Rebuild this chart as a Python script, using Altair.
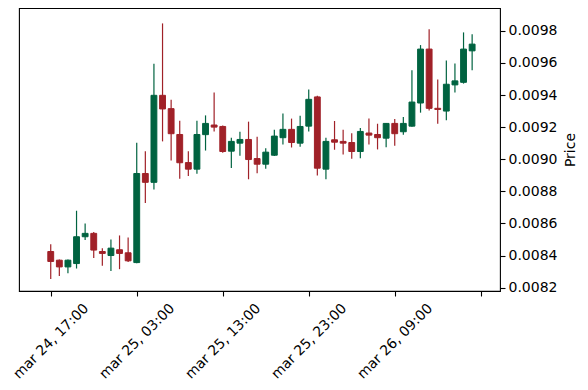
import altair as alt
import pandas as pd

# hourly candles, starting mar 24, 17:00 (values in price units)
opens = [0.008425, 0.008371, 0.008329, 0.008350, 0.008517, 0.008538, 0.008425, 0.008400, 0.008436, 0.008417,
         0.008356, 0.008911, 0.008856, 0.009398, 0.009315, 0.009154, 0.008979, 0.008938, 0.009153, 0.009213,
         0.009204, 0.009050, 0.009100, 0.009123, 0.009004, 0.008969, 0.009025, 0.009134, 0.009186, 0.009100,
         0.009206, 0.009388, 0.008938, 0.009121, 0.009111, 0.009104, 0.009048, 0.009163, 0.009154, 0.009131,
         0.009223, 0.009171, 0.009206, 0.009350, 0.009686, 0.009317, 0.009300, 0.009463, 0.009479, 0.009675]
highs = [0.008471, 0.008375, 0.008375, 0.008679, 0.008600, 0.008546, 0.008446, 0.008500, 0.008525, 0.008513,
         0.009102, 0.009050, 0.009594, 0.009846, 0.009371, 0.009240, 0.009050, 0.009240, 0.009273, 0.009415,
         0.009210, 0.009134, 0.009171, 0.009234, 0.009140, 0.009069, 0.009184, 0.009284, 0.009253, 0.009271,
         0.009434, 0.009395, 0.009134, 0.009238, 0.009184, 0.009161, 0.009194, 0.009253, 0.009221, 0.009225,
         0.009250, 0.009263, 0.009554, 0.009711, 0.009809, 0.009496, 0.009615, 0.009596, 0.009790, 0.009778]
lows = [0.008253, 0.008273, 0.008290, 0.008319, 0.008496, 0.008384, 0.008336, 0.008304, 0.008315, 0.008360,
        0.008352, 0.008727, 0.008811, 0.009111, 0.008992, 0.008879, 0.008896, 0.008909, 0.009054, 0.009173,
        0.009040, 0.008946, 0.009021, 0.008875, 0.008913, 0.008940, 0.009020, 0.009092, 0.009073, 0.009078,
        0.009173, 0.008898, 0.008875, 0.009059, 0.009029, 0.009003, 0.009006, 0.009092, 0.009061, 0.009075,
        0.009084, 0.009153, 0.009203, 0.009290, 0.009303, 0.009221, 0.009242, 0.009415, 0.009471, 0.009554]
closes = [0.008363, 0.008329, 0.008371, 0.008517, 0.008538, 0.008434, 0.008413, 0.008446, 0.008413, 0.008367,
          0.008911, 0.008856, 0.009398, 0.009313, 0.009159, 0.008978, 0.008938, 0.009154, 0.009223, 0.009200,
          0.009048, 0.009111, 0.009123, 0.008998, 0.008969, 0.009044, 0.009144, 0.009186, 0.009104, 0.009204,
          0.009373, 0.008944, 0.009111, 0.009106, 0.009100, 0.009048, 0.009173, 0.009150, 0.009134, 0.009223,
          0.009159, 0.009223, 0.009356, 0.009686, 0.009317, 0.009310, 0.009467, 0.009488, 0.009686, 0.009717]

tick_index = [0, 10, 20, 30, 40, 50]
tick_labels = ["mar 24, 17:00", "mar 25, 03:00", "mar 25, 13:00", "mar 25, 23:00", "mar 26, 09:00", ""]
price_ticks = [0.0082, 0.0084, 0.0086, 0.0088, 0.0090, 0.0092, 0.0094, 0.0096, 0.0098]

UP = "#006340"
DOWN = "#A02128"

df = pd.DataFrame({"i": list(range(len(opens))), "open": opens, "high": highs,
                   "low": lows, "close": closes})
df["dir"] = ["up" if c >= o else "down" for o, c in zip(opens, closes)]

label_expr = "''"
for v, t in zip(reversed(tick_index), reversed(tick_labels)):
    label_expr = f"datum.value == {v} ? '{t}' : ({label_expr})"

xscale = alt.Scale(domain=[-3.69, 52.24], nice=False, zero=False)
yscale = alt.Scale(domain=[0.008179, 0.009942], nice=False, zero=False)
color = alt.Color("dir:N", scale=alt.Scale(domain=["up", "down"], range=[UP, DOWN]), legend=None)

xaxis = alt.Axis(values=tick_index, labelExpr=label_expr, labelAngle=315, labelAlign="center",
                 labelBaseline="middle", labelPadding=45, labelOverlap=False, labelBound=False,
                 labelFlush=False, grid=False, domain=False, tickSize=5, title=None)
yaxis = alt.Axis(orient="right", values=price_ticks, format=".4f", grid=False, domain=False,
                 tickSize=5, labelPadding=3, labelOverlap=False, labelFlush=False,
                 title="Price", titleAngle=270, titlePadding=21,
                 titleFontWeight="normal", titleFontSize=14)

base = alt.Chart(df)

wicks = base.mark_rule(strokeWidth=1.2).encode(
    x=alt.X("i:Q", scale=xscale, axis=xaxis),
    y=alt.Y("low:Q", scale=yscale, axis=yaxis),
    y2="high:Q",
    color=color,
)

bodies = base.transform_calculate(
    xl="datum.i - 0.34", xr="datum.i + 0.34"
).mark_bar(strokeWidth=1).encode(
    x=alt.X("xl:Q", scale=xscale, axis=xaxis),
    x2="xr:Q",
    y=alt.Y("open:Q", scale=yscale, axis=yaxis),
    y2="close:Q",
    color=color,
    stroke=color,
)

chart = alt.layer(wicks, bodies).properties(
    width=481, height=283,
    autosize=alt.AutoSizeParams(type="none"),
    padding={"left": 11, "top": 0, "right": 79, "bottom": 90},
).configure_view(
    stroke="black", strokeWidth=1.1
).configure_axis(
    labelFont="DejaVu Sans", titleFont="DejaVu Sans", labelFontSize=14,
    labelColor="black", titleColor="black", tickColor="black", tickWidth=1.1,
)

chart.save("out.html", embed_options={"renderer": "svg", "actions": False})
